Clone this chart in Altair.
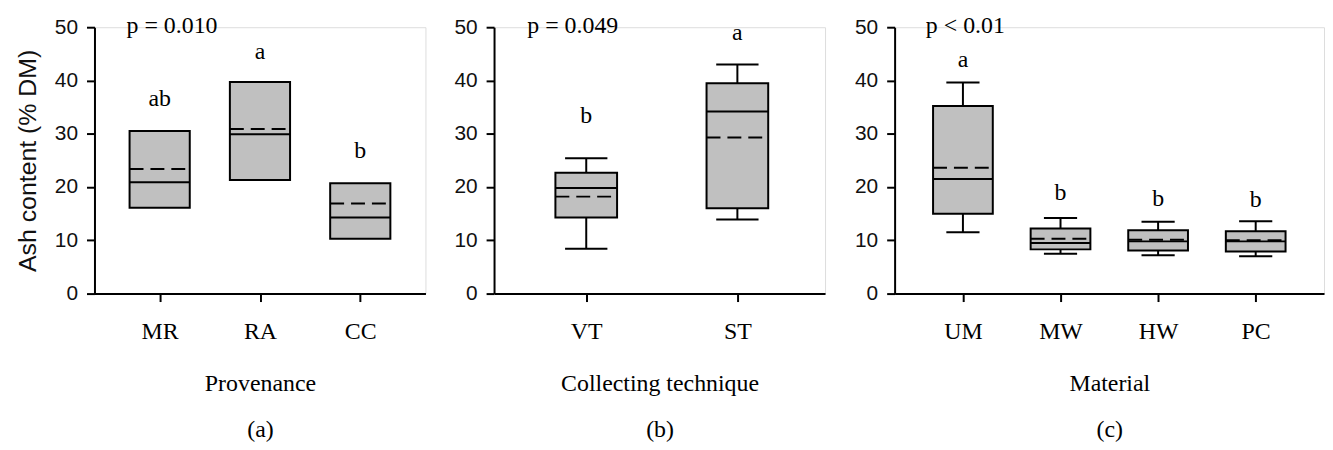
import altair as alt
import pandas as pd

# ---------------- Panel (a): Provenance ----------------
prov_cat = ["MR", "RA", "CC"]
prov_q1 = [16.1, 21.3, 10.3]
prov_q3 = [30.5, 39.7, 20.7]
prov_median = [20.9, 29.9, 14.3]
prov_mean = [23.4, 30.9, 16.9]
prov_letter = ["ab", "a", "b"]
prov_letter_y = [35.2, 44.1, 25.4]

# ---------------- Panel (b): Collecting technique ----------------
tech_cat = ["VT", "ST"]
tech_q1 = [14.3, 16.0]
tech_q3 = [22.7, 39.5]
tech_median = [19.8, 34.2]
tech_mean = [18.2, 29.3]
tech_wlo = [8.4, 13.9]
tech_whi = [25.4, 43.0]
tech_letter = ["b", "a"]
tech_letter_y = [32.1, 47.6]

# ---------------- Panel (c): Material ----------------
mat_cat = ["UM", "MW", "HW", "PC"]
mat_q1 = [15.0, 8.3, 8.1, 7.9]
mat_q3 = [35.2, 12.2, 11.9, 11.7]
mat_median = [21.5, 9.5, 9.8, 9.8]
mat_mean = [23.6, 10.3, 10.1, 10.0]
mat_wlo = [11.5, 7.5, 7.2, 7.0]
mat_whi = [39.6, 14.2, 13.5, 13.6]
mat_letter = ["a", "b", "b", "b"]
mat_letter_y = [42.6, 17.5, 16.5, 16.3]

y_ticks = [0, 10, 20, 30, 40, 50]

SERIF = "Liberation Serif"
SANS = "Liberation Sans"
BOX_FILL = "#c0c0c0"
PLOT_H = 268
SERIF_SIZE = 24


def panel(cats, q1, q3, med, mean, letters, letter_y, wlo, whi,
          xdomain, width, half, cap, xtitle, tag, ptext, px, ytitle):
    n = len(cats)
    data = {
        "idx": list(range(1, n + 1)),
        "cat": cats,
        "q1": q1,
        "q3": q3,
        "med": med,
        "mean": mean,
        "letter": letters,
        "ly": letter_y,
    }
    if wlo is not None:
        data["wlo"] = wlo
        data["whi"] = whi
    df = pd.DataFrame(data)

    label_arr = "[" + ",".join("'%s'" % c for c in cats) + "]"
    xaxis = alt.Axis(
        values=list(range(1, n + 1)),
        labelExpr=label_arr + "[datum.value-1]",
        title=[xtitle, tag],
        titleLineHeight=47,
        titleFont=SERIF, titleFontSize=SERIF_SIZE, titleFontWeight="normal",
        titleColor="black", titlePadding=28,
        labelFont=SERIF, labelFontSize=SERIF_SIZE, labelColor="black",
        labelPadding=18, tickSize=8, tickWidth=2, tickColor="black",
        domainColor="black", domainWidth=2, grid=False,
    )
    yaxis_kwargs = dict(
        values=y_ticks, labelFont=SANS, labelFontSize=21, labelColor="#111111",
        labelPadding=9, tickSize=8, tickWidth=2, tickColor="black",
        domainColor="black", domainWidth=2, grid=False,
    )
    if ytitle:
        yaxis = alt.Axis(title=ytitle, titleFont=SANS, titleFontSize=25,
                         titleFontWeight="normal", titleColor="#111111",
                         titlePadding=14, **yaxis_kwargs)
    else:
        yaxis = alt.Axis(title=None, **yaxis_kwargs)

    xs = alt.Scale(domain=xdomain, nice=False, zero=False)
    ys = alt.Scale(domain=[0, 50], nice=False)

    def X(f):
        return alt.X(f, type="quantitative", scale=xs, axis=xaxis)

    def Y(f):
        return alt.Y(f, type="quantitative", scale=ys, axis=yaxis)

    base = alt.Chart(df).transform_calculate(
        lo="datum.idx - %f" % half,
        hi="datum.idx + %f" % half,
        clo="datum.idx - %f" % cap,
        chi="datum.idx + %f" % cap,
    )

    layers = []
    if wlo is not None:
        layers.append(base.mark_rule(color="black", strokeWidth=2).encode(
            x=X("idx"), y=Y("wlo"), y2="whi"))
        layers.append(base.mark_rule(color="black", strokeWidth=2).encode(
            x=X("clo"), x2="chi", y=Y("wlo")))
        layers.append(base.mark_rule(color="black", strokeWidth=2).encode(
            x=X("clo"), x2="chi", y=Y("whi")))
    layers.append(base.mark_rect(fill=BOX_FILL, stroke="black", strokeWidth=2).encode(
        x=X("lo"), x2="hi", y=Y("q1"), y2="q3"))
    layers.append(base.mark_rule(color="black", strokeWidth=2).encode(
        x=X("lo"), x2="hi", y=Y("med")))
    layers.append(base.mark_rule(color="black", strokeWidth=2, strokeDash=[14, 7]).encode(
        x=X("lo"), x2="hi", y=Y("mean")))
    layers.append(base.mark_text(font=SERIF, fontSize=SERIF_SIZE, color="black",
                                 baseline="alphabetic").encode(
        x=X("idx"), y=Y("ly"), text="letter"))
    layers.append(alt.Chart(pd.DataFrame({"t": [ptext]})).mark_text(
        font=SERIF, fontSize=SERIF_SIZE, color="black", align="left", baseline="alphabetic").encode(
        x=alt.X(datum=px, type="quantitative", scale=xs, axis=xaxis),
        y=alt.Y(datum=49.0, type="quantitative", scale=ys, axis=yaxis),
        text="t"))

    return alt.layer(*layers).properties(width=width, height=PLOT_H)


pa = panel(prov_cat, prov_q1, prov_q3, prov_median, prov_mean, prov_letter, prov_letter_y,
           None, None, [0.35, 3.65], 333, 0.30, 0.17, "Provenance", "(a)", "p = 0.010", 0.67,
           "Ash content (% DM)")
pb = panel(tech_cat, tech_q1, tech_q3, tech_median, tech_mean, tech_letter, tech_letter_y,
           tech_wlo, tech_whi, [0.39, 2.58], 333, 0.204, 0.14, "Collecting technique", "(b)",
           "p = 0.049", 0.61, None)
pc = panel(mat_cat, mat_q1, mat_q3, mat_median, mat_mean, mat_letter, mat_letter_y,
           mat_wlo, mat_whi, [0.3, 4.7], 432, 0.306, 0.17, "Material", "(c)",
           "p < 0.01", 0.62, None)

chart = alt.hconcat(alt.hconcat(pa, pb, spacing=27), pc, spacing=28).properties(
    padding={"left": 7, "top": 3, "right": 0, "bottom": 0}
).configure_view(stroke=None).configure(background="white")

chart.save("out.html", embed_options={"renderer": "svg", "actions": False})
